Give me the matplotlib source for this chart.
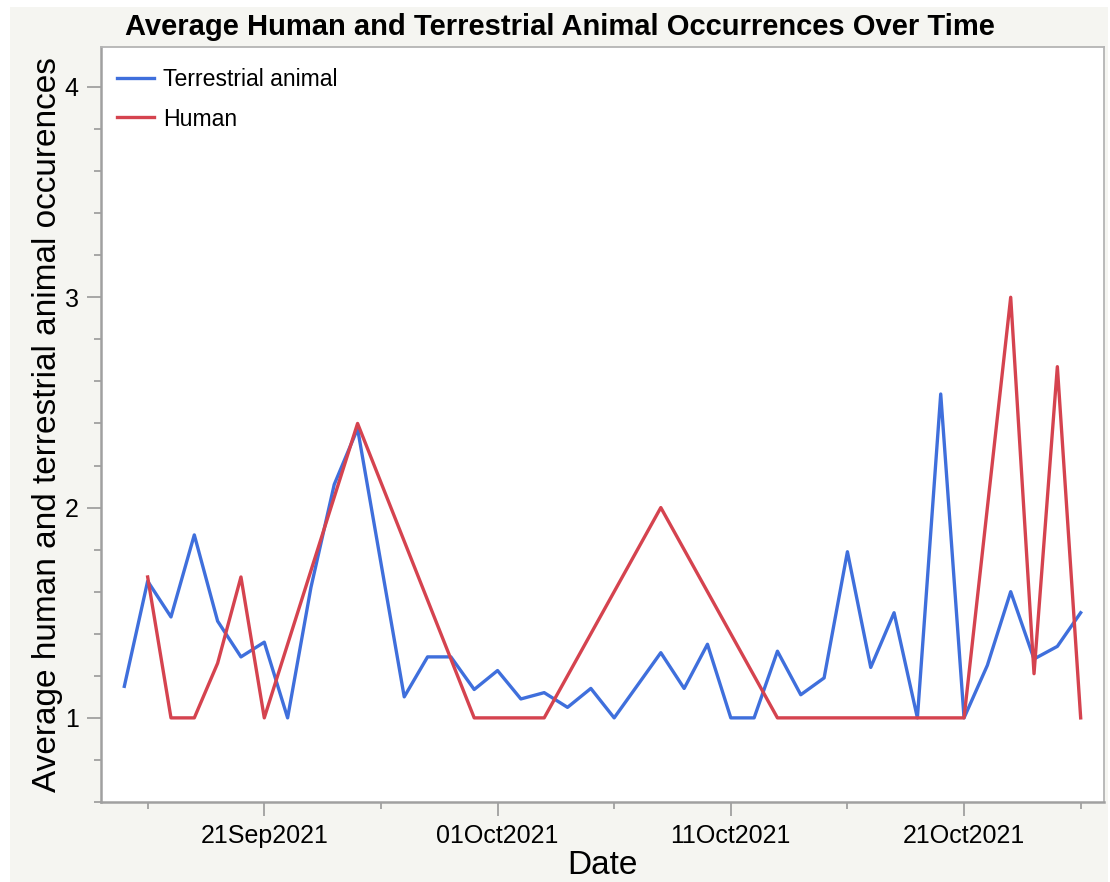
import numpy as np
import pandas as pd
import matplotlib
matplotlib.use("Agg")
import matplotlib.pyplot as plt
import matplotlib.dates as mdates
from matplotlib.patches import Rectangle

plt.rcParams['font.family'] = ['Liberation Sans', 'DejaVu Sans']

# terrestrial animal averages (blue)
animal_dates = ["2021-09-15", "2021-09-16", "2021-09-17", "2021-09-18", "2021-09-19",
                "2021-09-20", "2021-09-21", "2021-09-22", "2021-09-23", "2021-09-24",
                "2021-09-25", "2021-09-27", "2021-09-28", "2021-09-29", "2021-09-30",
                "2021-10-01", "2021-10-02", "2021-10-03", "2021-10-04", "2021-10-05",
                "2021-10-06", "2021-10-08", "2021-10-09", "2021-10-10", "2021-10-11",
                "2021-10-12", "2021-10-13", "2021-10-14", "2021-10-15", "2021-10-16",
                "2021-10-17", "2021-10-18", "2021-10-19", "2021-10-20", "2021-10-21",
                "2021-10-22", "2021-10-23", "2021-10-24", "2021-10-25", "2021-10-26"]
animal_vals = [1.15, 1.65, 1.48, 1.87, 1.46, 1.29, 1.36, 1.0, 1.62, 2.11,
               2.375, 1.10, 1.29, 1.29, 1.135, 1.225, 1.09, 1.12, 1.05, 1.14,
               1.0, 1.31, 1.14, 1.35, 1.0, 1.0, 1.317, 1.11, 1.19, 1.79,
               1.24, 1.50, 1.0, 2.54, 1.0, 1.25, 1.60, 1.28, 1.34, 1.50]

# human averages (red)
human_dates = ["2021-09-16", "2021-09-17", "2021-09-18", "2021-09-19", "2021-09-20",
               "2021-09-21", "2021-09-25", "2021-09-30", "2021-10-03", "2021-10-08",
               "2021-10-13", "2021-10-21", "2021-10-23", "2021-10-24", "2021-10-25",
               "2021-10-26"]
human_vals = [1.67, 1.0, 1.0, 1.26, 1.67, 1.0, 2.40, 1.0, 1.0, 2.0,
              1.0, 1.0, 3.0, 1.21, 2.67, 1.0]

blue = '#3f6fdc'
red = '#d5434f'
bg = '#f5f5f1'

fig = plt.figure(figsize=(11.10, 8.82), dpi=100)
fig.patch.set_facecolor('white')
fig.patches.append(Rectangle((10/1110, 0), 1098/1110, 875/882, transform=fig.transFigure,
                             facecolor=bg, edgecolor='none', zorder=-10))

ax = fig.add_axes([101/1110, 80/882, 1003/1110, 755/882])
ax.set_facecolor('white')

ax.plot(pd.to_datetime(animal_dates), animal_vals, color=blue, lw=2.4, label='Terrestrial animal')
ax.plot(pd.to_datetime(human_dates), human_vals, color=red, lw=2.4, label='Human')

ax.set_xlim(pd.Timestamp("2021-09-14"), pd.Timestamp("2021-10-27"))
ax.set_ylim(0.6, 4.19)

ax.xaxis.set_major_locator(mdates.DayLocator(bymonthday=[1, 11, 21]))
ax.xaxis.set_minor_locator(mdates.DayLocator(bymonthday=[6, 16, 26]))
ax.xaxis.set_major_formatter(mdates.DateFormatter('%d%b%Y'))
ax.yaxis.set_major_locator(matplotlib.ticker.MultipleLocator(1))
ax.yaxis.set_minor_locator(matplotlib.ticker.MultipleLocator(0.2))

ax.tick_params(axis='both', which='major', length=10, width=1.3, color='#a0a0a0',
               labelsize=18, pad=6)
ax.tick_params(axis='both', which='minor', length=5, width=1.3, color='#a0a0a0')

for side in ['left', 'bottom']:
    ax.spines[side].set_color('#a0a0a0')
    ax.spines[side].set_linewidth(1.8)
for side in ['top', 'right']:
    ax.spines[side].set_color('#b4b4b4')
    ax.spines[side].set_linewidth(1.3)

ax.set_xlabel('Date', fontsize=24, labelpad=1)
ax.set_ylabel('Average human and terrestrial animal occurences', fontsize=24, labelpad=1)
fig.suptitle('Average Human and Terrestrial Animal Occurrences Over Time',
             fontsize=21, fontweight='bold', x=0.504, y=0.985, va='top')

ax.legend(loc='upper left', frameon=False, fontsize=16.6, handlelength=1.6,
          handletextpad=0.4, labelspacing=0.7, borderaxespad=0.3,
          bbox_to_anchor=(0.0, 0.993))

plt.savefig('out.png', dpi=100, facecolor=fig.get_facecolor())
